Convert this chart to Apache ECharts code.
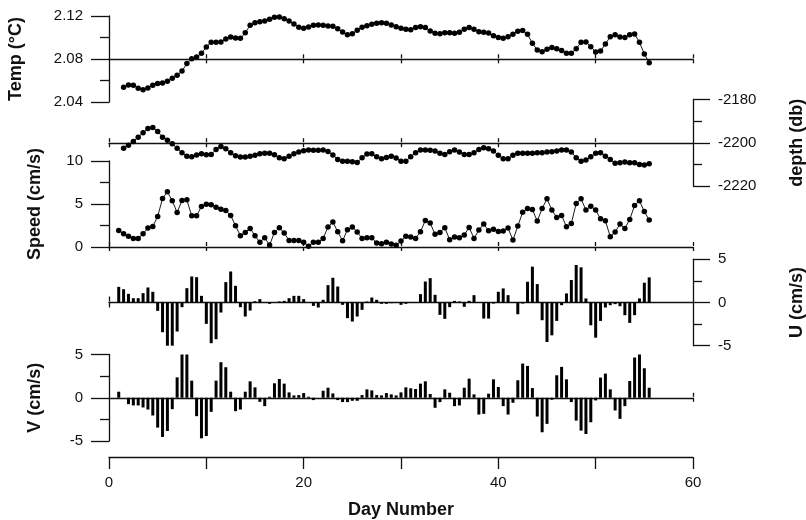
<!DOCTYPE html>
<html lang="en">
<head>
<meta charset="UTF-8">
<title>mooring record</title>
<script src="https://cdn.jsdelivr.net/npm/echarts@6/dist/echarts.min.js"></script>
</head>
<body style="margin:0;background:#fff">
<div id="container" style="width:806px;height:520px"></div>
<script>
// samples every half day
var step = 0.5;
var tempStart = 1.5;
var depthStart = 1.5;
var speedStart = 1.0;
var uvStart = 1.0;

var tempValues = [
    2.0537, 2.0558, 2.0555, 2.0527, 2.0515, 2.0530, 2.0555, 2.0571, 2.0577, 2.0592,
    2.0620, 2.0648, 2.0688, 2.0757, 2.0803, 2.0819, 2.0853, 2.0912, 2.0955, 2.0955,
    2.0958, 2.0986, 2.1005, 2.0995, 2.0992, 2.1045, 2.1113, 2.1138, 2.1147, 2.1154,
    2.1169, 2.1188, 2.1191, 2.1175, 2.1154, 2.1126, 2.1095, 2.1085, 2.1098, 2.1113,
    2.1116, 2.1113, 2.1107, 2.1104, 2.1082, 2.1051, 2.1026, 2.1036, 2.1067, 2.1095,
    2.1110, 2.1123, 2.1132, 2.1138, 2.1132, 2.1116, 2.1101, 2.1085, 2.1076, 2.1073,
    2.1092, 2.1101, 2.1092, 2.1060, 2.1039, 2.1036, 2.1045, 2.1045, 2.1039, 2.1048,
    2.1076, 2.1092, 2.1076, 2.1054, 2.1048, 2.1042, 2.1017, 2.0999, 2.0992, 2.1008,
    2.1030, 2.1057, 2.1064, 2.1030, 2.0946, 2.0884, 2.0868, 2.0890, 2.0906, 2.0896,
    2.0878, 2.0853, 2.0853, 2.0896, 2.0955, 2.0958, 2.0915, 2.0865, 2.0874, 2.0940,
    2.1008, 2.1026, 2.1005, 2.0999, 2.1026, 2.1033, 2.0955, 2.0847, 2.0766
];
var depthValues = [
    -2202.5, -2201.1, -2199.4, -2197.4, -2195.4, -2193.4, -2192.9, -2194.8, -2197.4, -2198.9,
    -2200.5, -2202.5, -2204.6, -2206.2, -2206.5, -2205.7, -2205.1, -2205.5, -2205.4, -2203.1,
    -2201.7, -2202.8, -2204.6, -2206.0, -2206.6, -2206.6, -2206.3, -2205.8, -2205.1, -2204.8,
    -2204.8, -2205.5, -2206.9, -2207.4, -2206.2, -2205.1, -2204.3, -2203.7, -2203.4, -2203.5,
    -2203.5, -2203.4, -2204.0, -2205.7, -2207.7, -2208.5, -2208.6, -2208.8, -2209.1, -2206.9,
    -2205.2, -2205.1, -2206.5, -2207.4, -2206.8, -2206.2, -2207.1, -2208.6, -2208.5, -2206.5,
    -2204.6, -2203.4, -2203.4, -2203.5, -2203.8, -2204.9, -2205.4, -2204.2, -2203.4, -2204.3,
    -2205.4, -2205.4, -2204.6, -2203.1, -2202.3, -2202.8, -2203.8, -2205.8, -2207.4, -2207.4,
    -2205.8, -2204.9, -2204.9, -2204.9, -2204.8, -2204.6, -2204.6, -2204.3, -2204.2, -2203.8,
    -2203.4, -2203.4, -2204.3, -2206.9, -2208.5, -2208.0, -2206.5, -2204.9, -2204.6, -2206.2,
    -2207.7, -2209.5, -2209.2, -2208.9, -2209.2, -2209.2, -2210.0, -2210.3, -2209.7
];
var speedValues = [
    1.93, 1.54, 1.24, 1.00, 1.00, 1.54, 2.20, 2.39, 3.55, 5.64,
    6.41, 5.37, 4.02, 5.41, 5.48, 3.63, 3.63, 4.71, 4.98, 4.90,
    4.63, 4.40, 4.25, 3.67, 2.47, 1.31, 1.70, 2.16, 1.31, 0.54,
    1.08, 0.23, 1.70, 2.24, 1.62, 0.77, 0.77, 0.77, 0.54, 0.08,
    0.54, 0.54, 1.00, 2.32, 2.90, 1.78, 0.73, 2.01, 2.32, 1.74,
    1.00, 1.08, 1.08, 0.46, 0.39, 0.54, 0.35, 0.19, 0.69, 1.24,
    1.16, 1.00, 1.78, 3.09, 2.78, 1.47, 1.70, 2.24, 0.85, 1.16,
    1.08, 1.39, 2.28, 1.00, 1.97, 2.66, 1.89, 2.05, 1.81, 1.85,
    2.20, 0.81, 2.43, 4.05, 4.48, 4.36, 3.01, 4.48, 5.60, 4.29,
    3.44, 3.67, 2.36, 2.74, 5.06, 5.60, 4.29, 4.75, 4.29, 3.28,
    3.05, 1.20, 1.74, 2.66, 2.16, 3.20, 4.83, 5.37, 4.13, 3.13
];
var uValues = [
    1.81, 1.54, 1.00, 0.50, 0.50, 1.08, 1.74, 1.24, -0.97, -3.44,
    -5.10, -5.10, -3.36, -0.54, 1.66, 3.01, 2.93, 0.77, -2.47, -4.71,
    -4.25, -1.16, 2.36, 3.59, 1.93, -0.54, -1.62, -0.93, 0.15, 0.39,
    0.00, -0.15, 0.00, 0.12, 0.19, 0.50, 0.77, 0.77, 0.39, 0.00,
    -0.39, -0.58, 0.31, 2.01, 2.86, 1.85, -0.27, -1.81, -2.20, -1.62,
    -0.85, 0.12, 0.58, 0.31, -0.15, -0.15, -0.08, -0.04, -0.27, -0.15,
    -0.04, 0.04, 0.97, 2.43, 2.82, 0.89, -1.43, -1.89, -0.54, 0.19,
    0.12, -0.50, 0.19, 0.85, 0.00, -1.86, -1.86, -0.12, 1.24, 1.63,
    0.85, 0.00, -1.36, -0.12, 2.40, 4.15, 2.13, -2.05, -4.57, -3.80,
    -2.13, -0.31, 1.05, 2.60, 4.34, 4.07, 0.47, -2.64, -4.07, -2.13,
    -0.58, -0.31, -0.19, -0.43, -1.47, -2.36, -1.47, 0.47, 2.29, 2.91
];
var vValues = [
    0.70, 0.00, -0.74, -0.89, -0.89, -1.12, -1.36, -2.05, -3.45, -4.53,
    -3.84, -1.32, 2.36, 5.31, 5.16, 1.98, -2.13, -4.69, -4.42, -1.63,
    1.98, 4.11, 3.53, 0.70, -1.55, -1.36, 0.70, 1.90, 1.20, -0.47,
    -0.97, 0.12, 1.67, 2.17, 1.63, 0.62, 0.27, 0.31, 0.54, 0.12,
    -0.27, 0.00, 0.81, 1.16, 0.50, -0.27, -0.50, -0.50, -0.35, -0.35,
    0.31, 0.97, 0.85, 0.31, 0.27, 0.54, 0.39, 0.27, 0.62, 1.20,
    1.09, 1.01, 1.63, 1.90, 0.43, -1.16, -0.50, 0.97, 0.58, -0.97,
    -0.89, 1.16, 2.21, 0.39, -1.94, -1.86, 0.47, 2.13, 1.24, -0.97,
    -1.94, -0.58, 2.02, 3.95, 3.68, 1.12, -2.17, -3.99, -3.02, -0.23,
    2.60, 3.57, 2.13, -0.50, -2.64, -3.80, -4.19, -2.83, -0.31, 2.33,
    2.79, 0.97, -1.47, -2.44, -0.97, 1.94, 4.65, 5.19, 3.41, 1.16
];
var dayTicks = [0, 10, 20, 30, 40, 50, 60];
var dayLabels = [0, 20, 40, 60];

var ink = '#111';
var fontFamily = 'Liberation Sans, Arial, sans-serif';
var plotLeft = 109;
var plotWidth = 584;

function pairs(start, values) {
    return values.map(function (v, i) {
        return [start + i * step, v];
    });
}

var grids = [];
var xAxes = [];
var yAxes = [];
var series = [];

// one panel: grid + hidden x axis + value y axis
function panel(top, height, side, min, max, interval, name, nameGap, fmt) {
    var g = grids.length;
    grids.push({left: plotLeft, width: plotWidth, top: top, height: height, outerBoundsMode: 'none'});
    xAxes.push({gridIndex: g, type: 'value', min: 0, max: 60, show: false});
    yAxes.push({
        gridIndex: g, type: 'value', position: side,
        min: min, max: max, interval: interval,
        axisLine: {show: true, onZero: false, lineStyle: {color: ink, width: 1.3}},
        axisTick: {show: true, length: side === 'left' ? 18 : 17, lineStyle: {color: ink, width: 1.3}},
        minorTick: {show: true, splitNumber: 2, length: 9, lineStyle: {color: ink, width: 1.3}},
        splitLine: {show: false},
        axisLabel: {
            margin: side === 'left' ? 26 : 25,
            color: ink, fontSize: 15, fontFamily: fontFamily,
            formatter: fmt || function (v) { return String(v); }
        },
        name: name, nameLocation: 'middle', nameRotate: 90, nameGap: nameGap,
        nameTextStyle: {color: ink, fontSize: 18, fontWeight: 'bold', fontFamily: fontFamily}
    });
    return g;
}

// a horizontal reference line with ticks crossing it
function hline(y, ticks, up, down, extra) {
    var g = grids.length;
    grids.push({left: plotLeft, width: plotWidth, top: y - 1, height: 1, outerBoundsMode: 'none'});
    var bottomAxis = {
        gridIndex: g, type: 'value', position: 'bottom', min: 0, max: 60,
        axisLine: {show: true, onZero: false, lineStyle: {color: ink, width: 1.3}},
        axisTick: {show: down > 0, length: down, customValues: ticks, lineStyle: {color: ink, width: 1.3}},
        axisLabel: {show: false},
        splitLine: {show: false}
    };
    if (extra) {
        Object.keys(extra).forEach(function (k) { bottomAxis[k] = extra[k]; });
    }
    xAxes.push(bottomAxis);
    xAxes.push({
        gridIndex: g, type: 'value', position: 'top', min: 0, max: 60,
        axisLine: {show: false, onZero: false},
        axisTick: {show: up > 0, length: up, customValues: ticks, lineStyle: {color: ink, width: 1.3}},
        axisLabel: {show: false},
        splitLine: {show: false}
    });
    yAxes.push({gridIndex: g, type: 'value', min: 0, max: 1, show: false});
}

function lineSeries(g, start, values) {
    series.push({
        type: 'line', xAxisIndex: g, yAxisIndex: g,
        data: pairs(start, values),
        symbol: 'circle', symbolSize: 5.5, showSymbol: true,
        itemStyle: {color: '#000'},
        lineStyle: {color: '#000', width: 0.9},
        animation: false
    });
}

function barSeries(g, start, values) {
    series.push({
        type: 'bar', xAxisIndex: g, yAxisIndex: g,
        data: pairs(start, values),
        barWidth: 3,
        itemStyle: {color: '#000'},
        animation: false
    });
}

var gTemp = panel(16, 86, 'left', 2.04, 2.12, 0.04, 'Temp (°C)', 84, function (v) { return v.toFixed(2); });
var gDepth = panel(99.5, 86.5, 'right', -2220, -2180, 20, 'depth (db)', 95);
var gSpeed = panel(161, 86, 'left', 0, 10, 5, 'Speed (cm/s)', 65);
var gU = panel(259.3, 86.4, 'right', -5, 5, 5, 'U (cm/s)', 95);
var gV = panel(354.5, 86.5, 'left', -5, 5, 5, 'V (cm/s)', 65);

lineSeries(gTemp, tempStart, tempValues);
lineSeries(gDepth, depthStart, depthValues);
lineSeries(gSpeed, speedStart, speedValues);
barSeries(gU, uvStart, uValues);
barSeries(gV, uvStart, vValues);

hline(59.3, [10, 20, 30, 40, 50, 60], 4, 4);
hline(143.2, [0, 10, 20, 30, 40, 50], 4, 4);
hline(247, dayTicks, 4, 4);
hline(302.5, [0], 5, 5);
hline(397.8, [60], 4, 4);
hline(457, dayTicks, 0, 12, {
    axisLabel: {
        show: true, customValues: dayLabels, margin: 18,
        color: ink, fontSize: 15, fontFamily: fontFamily
    },
    name: 'Day Number', nameLocation: 'middle', nameGap: 44,
    nameTextStyle: {color: ink, fontSize: 18, fontWeight: 'bold', fontFamily: fontFamily}
});

var myChart = echarts.init(document.getElementById('container'), null, {renderer: 'canvas'});
myChart.setOption({
    animation: false,
    backgroundColor: '#fff',
    grid: grids,
    xAxis: xAxes,
    yAxis: yAxes,
    series: series
});
</script>
</body>
</html>
